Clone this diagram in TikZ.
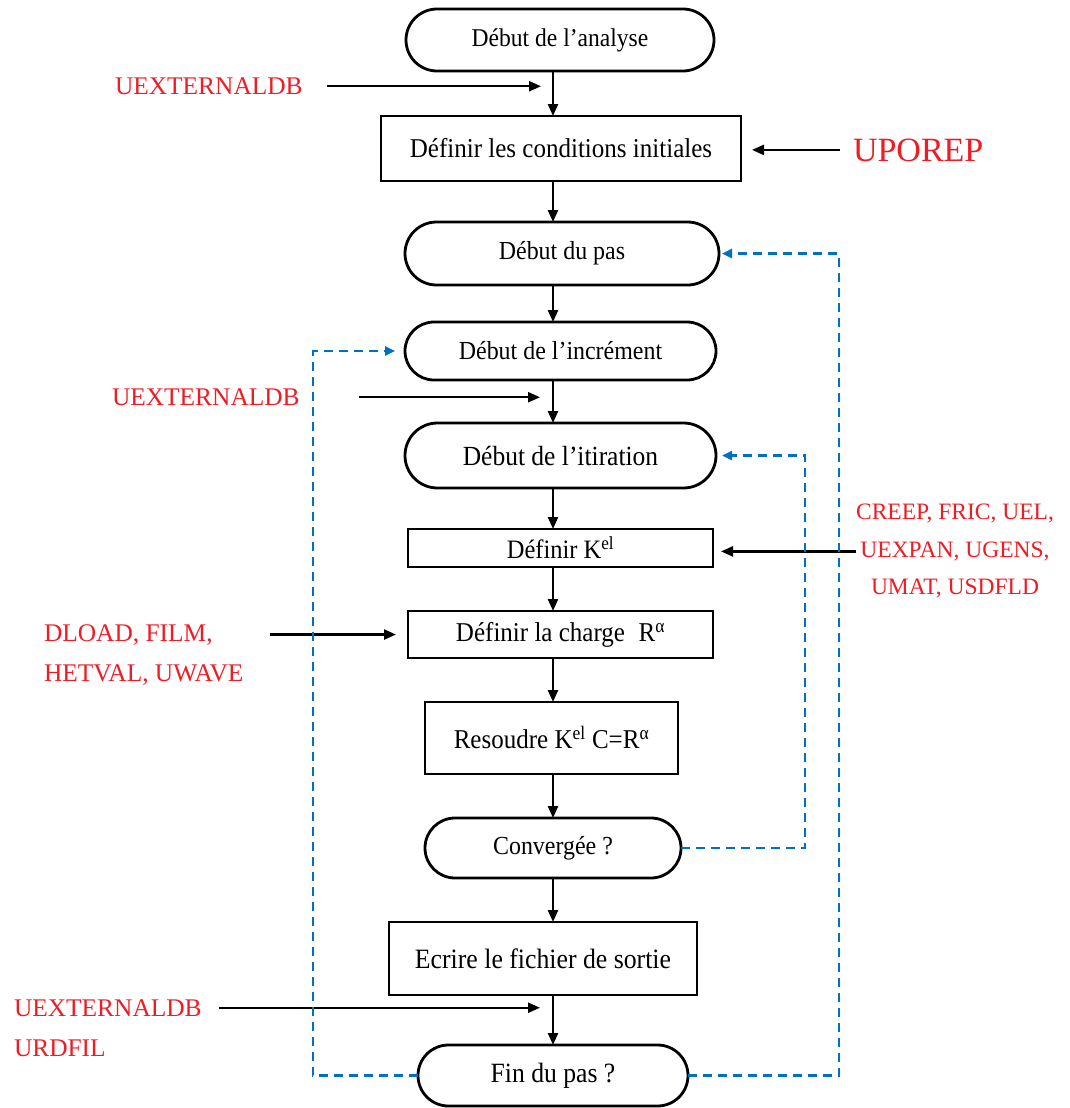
\documentclass[tikz,border=0pt]{standalone}
\usepackage{fontspec}
\setmainfont{Liberation Serif}
\newfontfamily\boxfont{Liberation Serif}[FakeStretch=0.92]
\usetikzlibrary{arrows.meta,shapes.misc}
\definecolor{lblred}{RGB}{238,28,36}
\definecolor{dashblue}{RGB}{0,112,192}
\newcommand{\bfs}[1]{\boxfont\fontsize{#1}{1.2\dimexpr #1pt\relax}\selectfont}
\begin{document}
\begin{tikzpicture}[x=1pt,y=-1pt,
  box/.style={draw, line width=2.8pt, inner sep=0pt, outer sep=0pt, align=center,
    font=\bfs{27.2}},
  stadium/.style={box, rounded rectangle},
  lbl/.style={text=lblred, inner sep=0pt, outer sep=0pt, font=\fontsize{25.4}{30}\selectfont},
  arr/.style={line width=2.3pt, -{Triangle[length=12pt,width=10pt]}},
  bdash/.style={dashblue, line width=2.4pt, dash pattern=on 9pt off 6pt,
    -{Triangle[length=10pt,width=9pt]}}
]
\useasboundingbox (0,0) rectangle (1070,1108);
\coordinate (col) at (553,0);

% main column
\node[stadium, minimum width=308pt, minimum height=62pt, font=\bfs{25.6}] (n1) at (560,40) {Début de l’analyse};
\node[box, minimum width=360pt, minimum height=65pt] (n2) at (561,148.5) {Définir les conditions initiales};
\node[stadium, minimum width=314pt, minimum height=63pt, font=\bfs{26}] (n3) at (562,253.5) {Début du pas};
\node[stadium, minimum width=311pt, minimum height=58pt, font=\bfs{26}] (n4) at (560.5,351) {Début de l’incrément};
\node[stadium, minimum width=311pt, minimum height=65pt, font=\bfs{27.7}] (n5) at (560.5,455.5) {Début de l’itiration};
\node[box, minimum width=305pt, minimum height=38pt, font=\bfs{26.6}] (n6) at (560.5,548) {Définir K\textsuperscript{el}};
\node[box, minimum width=305pt, minimum height=47pt] (n7) at (560.5,634.5) {Définir la charge\enspace R\textsuperscript{α}};
\node[box, minimum width=253pt, minimum height=72pt] (n8) at (551.5,738) {Resoudre K\textsuperscript{el} C=R\textsuperscript{α}};
\node[stadium, minimum width=256pt, minimum height=60pt, font=\bfs{26}] (n9) at (553,848) {Convergée ?};
\node[box, minimum width=308pt, minimum height=73pt, font=\bfs{28}] (n10) at (543,958.5) {Ecrire le fichier de sortie};
\node[stadium, minimum width=270pt, minimum height=61pt, font=\bfs{27.9}] (n11) at (553,1075.5) {Fin du pas ?};

\foreach \a/\b in {n1/n2,n2/n3,n3/n4,n4/n5,n5/n6,n6/n7,n7/n8,n8/n9,n9/n10,n10/n11}
  \draw[arr] (\a.south -| col) -- (\b.north -| col);

% red labels
\node[lbl, anchor=base west] (ux1) at (115,94.5) {UEXTERNALDB};
\node[lbl, anchor=base west, font=\fontsize{34}{40}\selectfont] (upo) at (853,161) {UPOREP};
\node[lbl, anchor=base west] (ux2) at (112,405.5) {UEXTERNALDB};
\node[lbl, align=center, font=\fontsize{23.5}{37.5}\selectfont] (creep) at (955,551.4)
  {CREEP, FRIC, UEL,\\UEXPAN, UGENS,\\UMAT, USDFLD};
\node[lbl, anchor=base west] (dl1) at (44,641) {DLOAD, FILM,};
\node[lbl, anchor=base west] (dl2) at (44,681) {HETVAL, UWAVE};
\node[lbl, anchor=base west] (ux3) at (14,1016) {UEXTERNALDB};
\node[lbl, anchor=base west] (urd) at (14,1056) {URDFIL};

% black input arrows
\draw[arr, shorten >=12pt] ([xshift=24.5pt]ux1.east) -- (ux1.east -| col);
\draw[arr, shorten >=11pt] ([xshift=-13pt]upo.west) -- (upo.west -| n2.east);
\draw[arr, shorten >=13pt] ([xshift=59pt]ux2.east) -- (ux2.east -| col);
\draw[arr, shorten >=8pt] (creep.west) -- (creep.west -| n6.east);
\draw[arr, shorten >=12pt] ([xshift=57pt]dl1.east) -- (dl1.east -| n7.west);
\draw[arr, shorten >=13pt] ([xshift=17pt]ux3.east) -- (ux3.east -| col);

% blue dashed loops
\coordinate (rr) at (839,600);
\coordinate (ri) at (805,650);
\coordinate (ll) at (313,700);
\draw[bdash, shorten >=3pt] (n11.east) -| (rr) |- (n3.east);
\draw[bdash, shorten >=6pt] (n9.east) -| (ri) |- (n5.east);
\draw[bdash, shorten >=10pt] (n11.west) -| (ll) |- (n4.west);
\end{tikzpicture}
\end{document}
